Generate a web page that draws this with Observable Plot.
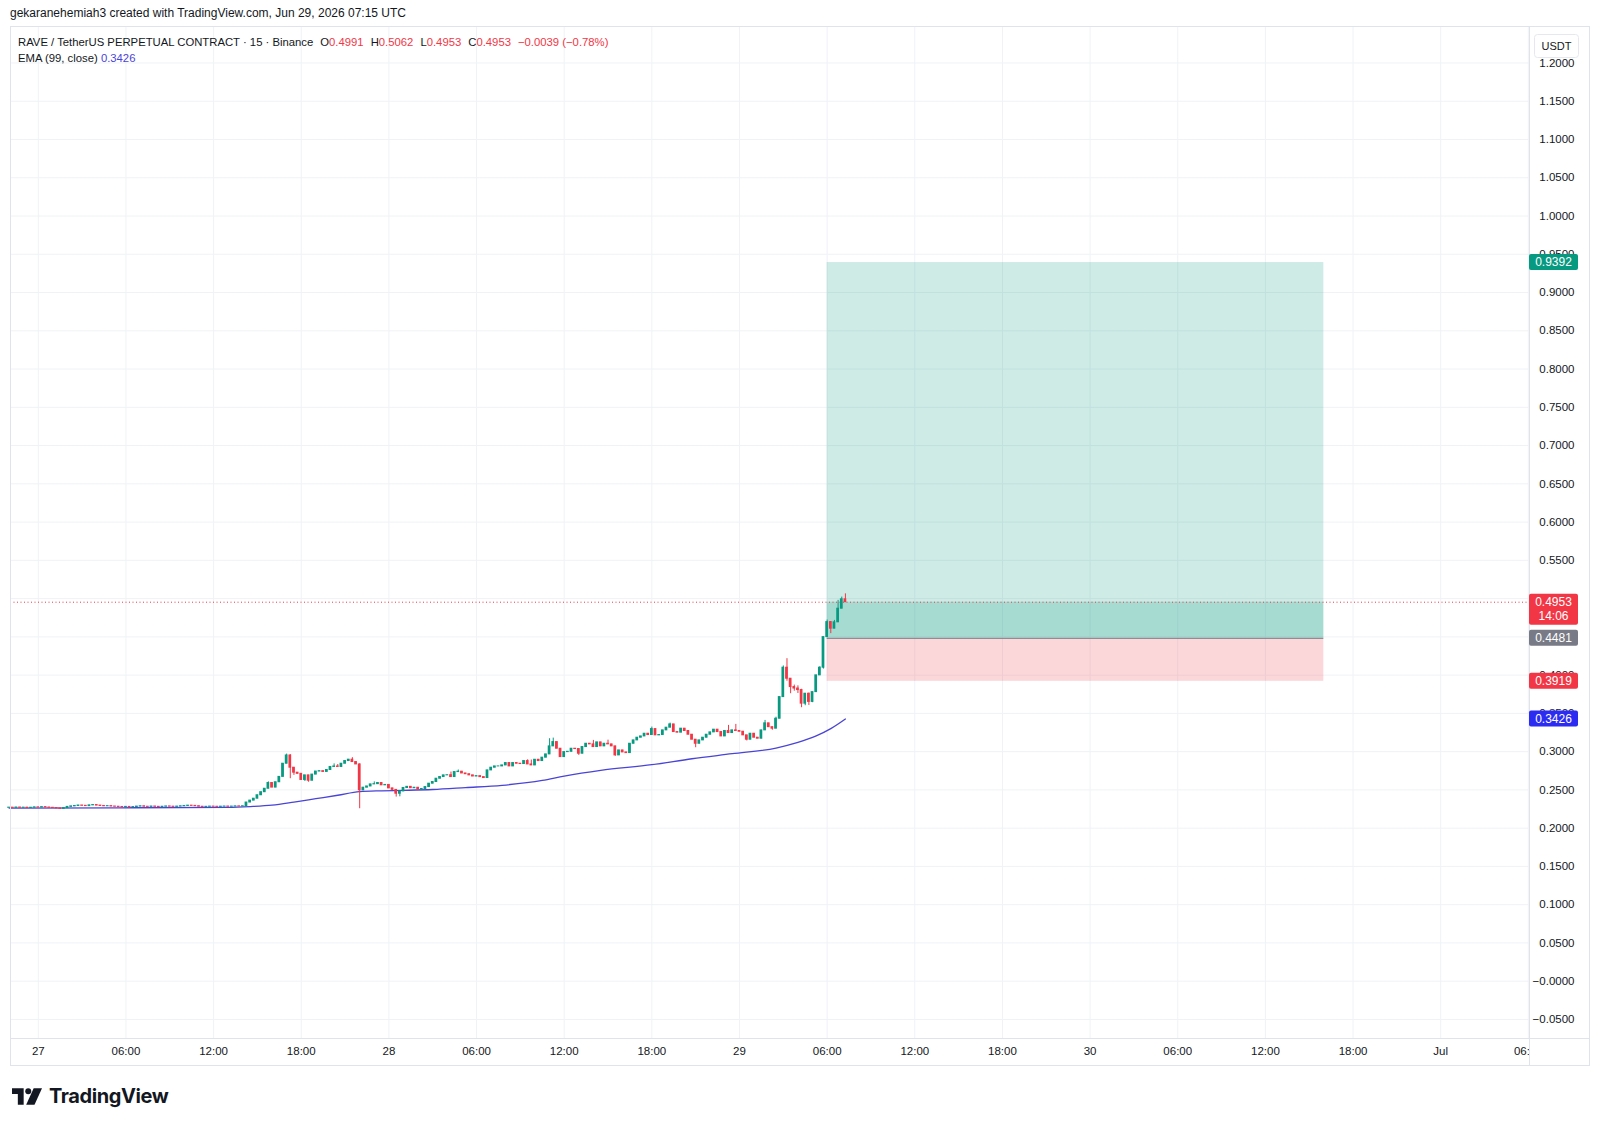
<!DOCTYPE html>
<html>
<head>
<meta charset="utf-8">
<script src="https://cdn.jsdelivr.net/npm/d3@7"></script>
<script src="https://cdn.jsdelivr.net/npm/@observablehq/plot@0.6"></script>
<style>
  html, body { margin: 0; padding: 0; background: #fff; }
  body { width: 1600px; height: 1125px; position: relative; overflow: hidden; font-family: "Liberation Sans", Arial, sans-serif; color: #131722; }
  #hdr { position: absolute; left: 10px; top: 6px; font-size: 12px; white-space: nowrap; }
  #chart { position: absolute; left: 0; top: 26px; }
  #legend { position: absolute; left: 18px; top: 34px; font-size: 11.3px; line-height: 16px; white-space: nowrap; }
  #legend .v { color: #f23645; }
  #legend .g { margin-left: 7px; }
  #legend .ema { color: #4a44d6; }
  #logo { position: absolute; left: 12px; top: 1084px; display: flex; align-items: center; gap: 7px; }
  #logo span { font-family: Inter, "Liberation Sans", sans-serif; font-weight: 700; font-size: 20px; color: #131722; letter-spacing: -0.4px; }
</style>
</head>
<body>
<div id="hdr">gekaranehemiah3 created with TradingView.com, Jun 29, 2026 07:15 UTC</div>
<div id="chart"></div>
<div id="legend">
  <div>RAVE / TetherUS PERPETUAL CONTRACT · 15 · Binance<span class="g">O<span class="v">0.4991</span></span><span class="g">H<span class="v">0.5062</span></span><span class="g">L<span class="v">0.4953</span></span><span class="g">C<span class="v">0.4953</span></span><span class="g v">−0.0039 (−0.78%)</span></div>
  <div>EMA (99, close) <span class="ema">0.3426</span></div>
</div>
<div id="logo">
  <svg width="30" height="17" viewBox="0 0 36 20">
    <path d="M0 0 H14 V20 H7 V7 H0 Z" fill="#131722"/>
    <circle cx="19.5" cy="3.6" r="3.6" fill="#131722"/>
    <path d="M26 0 H36 L27 20 H17 Z" fill="#131722"/>
  </svg>
  <span>TradingView</span>
</div>
<script>
// ---- Data ----
const firstTime = Date.UTC(2026, 5, 26, 22, 0);   // first 15-minute candle
const barMinutes = 15;
const firstOpen = 0.2266;
const closes = [
  0.2268, 0.2265, 0.2270, 0.2266, 0.2268, 0.2264, 0.2267, 0.2272, 0.2269, 0.2275,
  0.2270, 0.2266, 0.2263, 0.2258, 0.2252, 0.2262, 0.2278, 0.2285, 0.2290, 0.2296,
  0.2292, 0.2288, 0.2298, 0.2302, 0.2295, 0.2290, 0.2286, 0.2288, 0.2283, 0.2280,
  0.2277, 0.2275, 0.2278, 0.2274, 0.2276, 0.2282, 0.2286, 0.2280, 0.2278, 0.2283,
  0.2279, 0.2276, 0.2280, 0.2284, 0.2281, 0.2278, 0.2282, 0.2286, 0.2290, 0.2294,
  0.2291, 0.2287, 0.2280, 0.2277, 0.2279, 0.2282, 0.2280, 0.2278, 0.2281, 0.2283,
  0.2280, 0.2282, 0.2285, 0.2283, 0.2286,
  0.2335, 0.2360, 0.2385, 0.2430, 0.2470, 0.2515, 0.2590, 0.2530, 0.2600, 0.2670,
  0.2842, 0.2950, 0.2790, 0.2725, 0.2710, 0.2630, 0.2690, 0.2620, 0.2700, 0.2740,
  0.2745, 0.2735, 0.2760, 0.2800, 0.2806, 0.2800, 0.2842, 0.2877, 0.2895, 0.2864,
  0.2833, 0.2494,
  0.2529, 0.2545, 0.2572, 0.2575, 0.2590, 0.2560, 0.2565, 0.2520, 0.2500, 0.2450,
  0.2480, 0.2525, 0.2540, 0.2522, 0.2528, 0.2505, 0.2512, 0.2537, 0.2581, 0.2603,
  0.2646, 0.2668, 0.2690, 0.2692, 0.2668, 0.2733, 0.2738, 0.2715, 0.2705, 0.2690,
  0.2675, 0.2680, 0.2667, 0.2655, 0.2755, 0.2790, 0.2807,
  0.2807, 0.2820, 0.2851, 0.2807, 0.2851, 0.2842, 0.2838, 0.2877, 0.2833, 0.2820,
  0.2894, 0.2877, 0.2921, 0.2964, 0.3069, 0.3125, 0.3038, 0.2929, 0.2994, 0.2998,
  0.3038, 0.3034, 0.2973, 0.3060, 0.3103, 0.3095, 0.3060, 0.3121, 0.3069, 0.3103,
  0.3095, 0.3069, 0.2951, 0.3016, 0.2990, 0.2981, 0.3103, 0.3147, 0.3182, 0.3199,
  0.3234, 0.3217, 0.3295, 0.3213, 0.3217, 0.3278, 0.3313, 0.3356, 0.3256, 0.3248,
  0.3300, 0.3270, 0.3221, 0.3156, 0.3103, 0.3147, 0.3182, 0.3221, 0.3252, 0.3287,
  0.3256, 0.3199, 0.3270, 0.3243, 0.3278, 0.3270, 0.3260, 0.3213, 0.3156, 0.3234,
  0.3182, 0.3169, 0.3278, 0.3370, 0.3320, 0.3300, 0.3430,
  0.3713, 0.4097, 0.3953, 0.3844, 0.3825, 0.3805, 0.3627, 0.3757, 0.3650, 0.3778,
  0.3997, 0.4097, 0.4497, 0.4693, 0.4607, 0.4690, 0.4868, 0.4991, 0.4953
];
// visible wicks: [candle index, price]
const upperWicks = [
  [71, 0.2605], [76, 0.2968], [77, 0.2960], [89, 0.2840], [90, 0.2832], [94, 0.2921],
  [96, 0.2840], [100, 0.2605], [121, 0.2733], [123, 0.2760], [142, 0.2894], [143, 0.2890],
  [148, 0.3169], [149, 0.3177], [160, 0.3147], [164, 0.3150], [176, 0.3321], [181, 0.3373],
  [197, 0.3343], [199, 0.3356], [207, 0.3408], [210, 0.3450], [212, 0.4120], [213, 0.4215],
  [215, 0.3870], [216, 0.3860], [217, 0.3815], [219, 0.3765], [222, 0.4110], [224, 0.4720],
  [225, 0.4700], [226, 0.4715], [227, 0.4977], [228, 0.5020], [229, 0.5062]
];
const lowerWicks = [
  [14, 0.2245], [77, 0.2646], [78, 0.2690], [81, 0.2610], [82, 0.2600], [96, 0.2254],
  [106, 0.2406], [107, 0.2410], [156, 0.2951], [166, 0.2940], [188, 0.3051], [202, 0.3140],
  [209, 0.3280], [213, 0.3920], [214, 0.3757], [215, 0.3790], [216, 0.3760], [217, 0.3574],
  [218, 0.3600], [219, 0.3604], [220, 0.3640], [223, 0.4080], [225, 0.4542], [229, 0.4953]
];
// EMA(99, close) read at candle indices
const emaIndex = [0, 30, 60, 66, 72, 78, 84, 90, 96, 102, 108, 116, 125, 135, 146, 152, 162, 176, 187, 198, 210, 216, 221, 225, 229];
const emaValue = [0.2262, 0.2266, 0.2272, 0.2282, 0.2300, 0.2340, 0.2385, 0.2430, 0.2478, 0.2488, 0.2494, 0.2505, 0.2530, 0.2560, 0.2624, 0.2680, 0.2755, 0.2829, 0.2907, 0.2973, 0.3047, 0.3120, 0.3205, 0.3300, 0.3426];

const yTicks = [-0.05, 0, 0.05, 0.1, 0.15, 0.2, 0.25, 0.3, 0.35, 0.4, 0.45, 0.5, 0.55, 0.6, 0.65, 0.7, 0.75, 0.8, 0.85, 0.9, 0.95, 1.0, 1.05, 1.1, 1.15, 1.2];
const yTickLabels = ["−0.0500","−0.0000","0.0500","0.1000","0.1500","0.2000","0.2500","0.3000","0.3500","0.4000","0.4500","0.5000","0.5500","0.6000","0.6500","0.7000","0.7500","0.8000","0.8500","0.9000","0.9500","1.0000","1.0500","1.1000","1.1500","1.2000"];
// tick labels fully covered by the price tags in the reference
const coveredTicks = [0.45, 0.5];
const xTicks = ["2026-06-27T00:00Z","2026-06-27T06:00Z","2026-06-27T12:00Z","2026-06-27T18:00Z","2026-06-28T00:00Z","2026-06-28T06:00Z","2026-06-28T12:00Z","2026-06-28T18:00Z","2026-06-29T00:00Z","2026-06-29T06:00Z","2026-06-29T12:00Z","2026-06-29T18:00Z","2026-06-30T00:00Z","2026-06-30T06:00Z","2026-06-30T12:00Z","2026-06-30T18:00Z","2026-07-01T00:00Z","2026-07-01T06:00Z"];
const xTickLabels = ["27","06:00","12:00","18:00","28","06:00","12:00","18:00","29","06:00","12:00","18:00","30","06:00","12:00","18:00","Jul","06:00"];

const takeProfit = 0.9392, entryPrice = 0.4481, stopLoss = 0.3919, lastPrice = 0.4953, emaLast = 0.3426;
const countdown = "14:06";
const positionStart = "2026-06-29T06:00Z", positionEnd = "2026-06-30T16:00Z";
const viewStart = "2026-06-26T22:05:48Z", viewEnd = "2026-07-01T06:04:48Z";
const priceMin = -0.0749, priceMax = 1.2477;

const UP = "#089981", DOWN = "#f23645", GRID = "#f0f2f6", EMA = "#4a44d6";

// ---- Build candle table ----
const hiMap = new Map(upperWicks), loMap = new Map(lowerWicks);
const candles = closes.map((c, i) => {
  const o = i === 0 ? firstOpen : closes[i - 1];
  const t = firstTime + i * barMinutes * 60000;
  return {
    t: new Date(t),
    t1: new Date(t - 5.6 * 60000),
    t2: new Date(t + 5.6 * 60000),
    o, c,
    h: hiMap.has(i) ? hiMap.get(i) : Math.max(o, c),
    l: loMap.has(i) ? loMap.get(i) : Math.min(o, c),
    up: c >= o
  };
});
const emaPts = emaIndex.map((k, j) => ({t: new Date(firstTime + k * barMinutes * 60000), v: emaValue[j]}));
const xTickDates = xTicks.map(d => new Date(d));
const yLabelRows = yTicks.map((v, i) => ({v, label: yTickLabels[i]})).filter(d => !coveredTicks.includes(d.v));

const plot = Plot.plot({
  width: 1600,
  height: 1040,
  marginLeft: 10,
  marginRight: 71,
  marginTop: 0,
  marginBottom: 28,
  style: {fontFamily: '"Liberation Sans", Arial, sans-serif', background: "transparent", overflow: "visible"},
  x: {type: "utc", domain: [new Date(viewStart), new Date(viewEnd)], axis: null},
  y: {domain: [priceMin, priceMax], axis: null},
  marks: [
    Plot.ruleY(yTicks, {stroke: GRID, strokeWidth: 1}),
    Plot.ruleX(xTickDates, {stroke: GRID, strokeWidth: 1}),
    // position tool
    Plot.rect([0], {x1: () => new Date(positionStart), x2: () => new Date(positionEnd), y1: () => entryPrice, y2: () => takeProfit, fill: "rgba(8,153,129,0.2)"}),
    Plot.rect([0], {x1: () => new Date(positionStart), x2: () => new Date(positionEnd), y1: () => entryPrice, y2: () => lastPrice, fill: "rgba(8,153,129,0.2)"}),
    Plot.rect([0], {x1: () => new Date(positionStart), x2: () => new Date(positionEnd), y1: () => stopLoss, y2: () => entryPrice, fill: "rgba(242,54,69,0.2)"}),
    Plot.ruleY([entryPrice], {x1: () => new Date(positionStart), x2: () => new Date(positionEnd), stroke: "#787b86", strokeWidth: 1}),
    // last price dotted line
    Plot.ruleY([lastPrice], {stroke: DOWN, strokeWidth: 1, strokeDasharray: "1,2.5"}),
    // EMA
    Plot.line(emaPts, {x: "t", y: "v", stroke: EMA, strokeWidth: 1.3, curve: "monotone-x"}),
    // candles
    Plot.ruleX(candles, {x: "t", y1: "l", y2: "h", stroke: d => d.up ? UP : DOWN, strokeWidth: 1}),
    Plot.rect(candles, {x1: "t1", x2: "t2", y1: "o", y2: "c", fill: d => d.up ? UP : DOWN, insetTop: -0.5, insetBottom: -0.5}),
    // price scale labels
    Plot.text(yLabelRows, {y: "v", text: "label", frameAnchor: "right", dx: 45, textAnchor: "end", fontSize: 11.5, fill: "#131722"}),
    // time scale labels
    Plot.text(xTickDates, {x: d => d, text: (d, i) => xTickLabels[i], frameAnchor: "bottom", dy: 13, lineAnchor: "middle", fontSize: 11.5, fill: "#131722"})
  ]
});
document.getElementById("chart").appendChild(plot);

// ---- pane decorations: price-axis column, borders, tags ----
const svg = d3.select(plot);
const ys = plot.scale("y");
const g = svg.append("g");
// cover time labels that run into the price axis
g.append("rect").attr("x", 1529.5).attr("y", 1012).attr("width", 70).attr("height", 28).attr("fill", "#fff");
// borders
g.append("line").attr("x1", 1529.5).attr("x2", 1529.5).attr("y1", 0).attr("y2", 1040).attr("stroke", "#e0e3eb");
g.append("line").attr("x1", 10).attr("x2", 1590).attr("y1", 1012.5).attr("y2", 1012.5).attr("stroke", "#e0e3eb");
g.append("rect").attr("x", 10.5).attr("y", 0.5).attr("width", 1579).attr("height", 1039).attr("fill", "none").attr("stroke", "#e0e3eb");
// USDT box
g.append("rect").attr("x", 1534.5).attr("y", 8.5).attr("width", 44).attr("height", 23).attr("rx", 3).attr("fill", "#fff").attr("stroke", "#e6e8ee");
g.append("text").attr("x", 1556.5).attr("y", 20).attr("dy", "0.35em").attr("text-anchor", "middle").attr("font-size", 11).attr("fill", "#131722").text("USDT");

function tag(value, bg, lines) {
  const yc = ys.apply(value);
  const h = lines.length === 1 ? 16 : 31;
  g.append("rect").attr("x", 1529).attr("y", yc - 8).attr("width", 49).attr("height", h).attr("rx", 2).attr("fill", bg);
  lines.forEach((t, k) => g.append("text").attr("x", 1553.5).attr("y", yc + k * 14).attr("dy", "0.36em")
    .attr("text-anchor", "middle").attr("font-size", 12).attr("fill", "#fff").text(t));
}
tag(takeProfit, UP, [takeProfit.toFixed(4)]);
tag(lastPrice, DOWN, [lastPrice.toFixed(4), countdown]);
tag(entryPrice, "#787b86", [entryPrice.toFixed(4)]);
tag(stopLoss, DOWN, [stopLoss.toFixed(4)]);
tag(emaLast, "#2b2bf2", [emaLast.toFixed(4)]);
</script>
</body>
</html>
